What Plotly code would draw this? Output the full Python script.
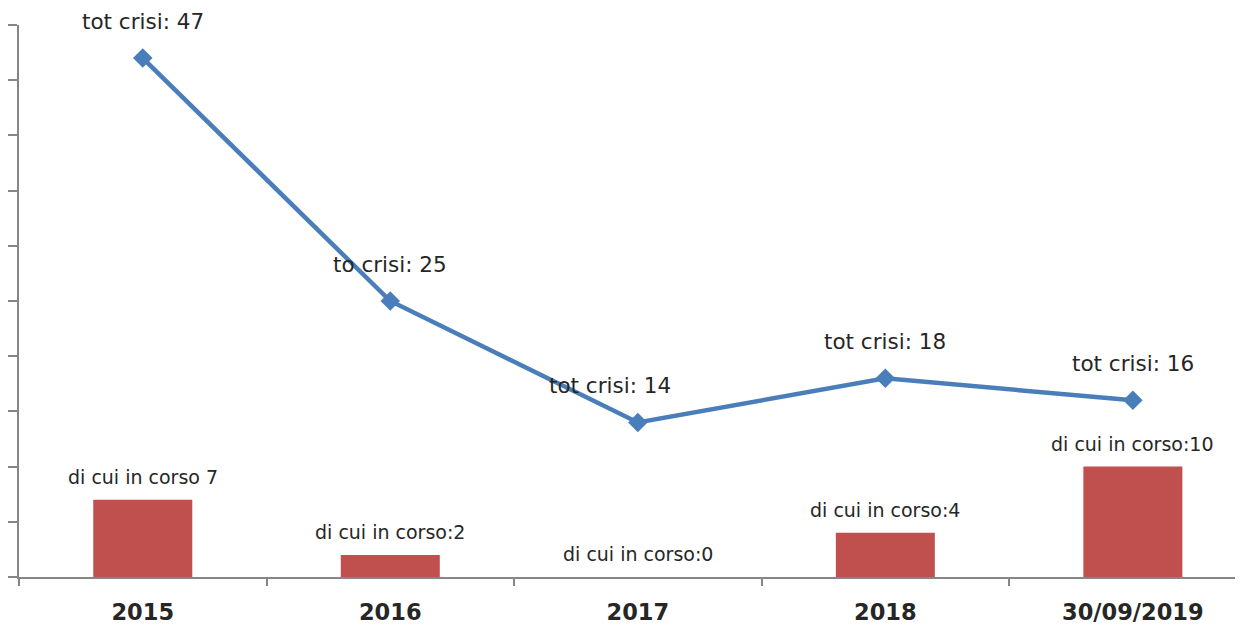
import plotly.graph_objects as go

categories = ["2015", "2016", "2017", "2018", "30/09/2019"]
tot_crisi = [47, 25, 14, 18, 16]
in_corso = [7, 2, 0, 4, 10]
tot_labels = ["tot crisi: 47", "to crisi: 25", "tot crisi: 14", "tot crisi: 18", "tot crisi: 16"]
corso_labels = ["di cui in corso 7", "di cui in corso:2", "di cui in corso:0", "di cui in corso:4", "di cui in corso:10"]
tot_label_xshift = [0, 0, -28, 0, 0]

FONT = "DejaVu Sans"
TXT = "#262626"

fig = go.Figure()
fig.add_trace(go.Bar(x=categories, y=in_corso, marker=dict(color="#C0504D", line=dict(width=0)),
                     width=0.4, showlegend=False, hoverinfo="skip"))
fig.add_trace(go.Scatter(x=categories, y=tot_crisi, mode="lines+markers",
                         line=dict(color="#4A7EBB", width=4.5),
                         marker=dict(symbol="diamond", size=15, color="#4A7EBB"),
                         showlegend=False, hoverinfo="skip"))

annotations = []
for i, (v, t, dx) in enumerate(zip(tot_crisi, tot_labels, tot_label_xshift)):
    annotations.append(dict(x=i, y=v, text=t, showarrow=False, yshift=37, xshift=dx,
                            font=dict(family=FONT, size=21.5, color=TXT)))
for i, (v, t) in enumerate(zip(in_corso, corso_labels)):
    annotations.append(dict(x=i, y=v, text=t, showarrow=False, yshift=23,
                            font=dict(family=FONT, size=19, color=TXT)))

# page body has an 8px default margin, so the figure is sized to end at the window edge
fig.update_layout(
    width=1235, height=617,
    margin=dict(l=11, r=0, t=17, b=48),
    paper_bgcolor="white", plot_bgcolor="white",
    annotations=annotations,
    xaxis=dict(type="category", range=[-0.5, 4.445], showline=True, linecolor="#868686", linewidth=2,
               ticks="outside", tickson="boundaries", ticklen=7, tickcolor="#868686", tickwidth=2,
               ticklabelstandoff=14,
               showgrid=False, tickfont=dict(family=FONT, size=22.5, color=TXT, weight="bold"),
               zeroline=False, automargin=False),
    yaxis=dict(range=[0, 50], tickvals=[0, 5, 10, 15, 20, 25, 30, 35, 40, 45, 50], showticklabels=False,
               showline=True, linecolor="#868686", linewidth=2, ticks="outside", ticklen=9,
               tickcolor="#868686", tickwidth=2, showgrid=False, zeroline=False, automargin=False),
)

fig.write_html("out.html")
